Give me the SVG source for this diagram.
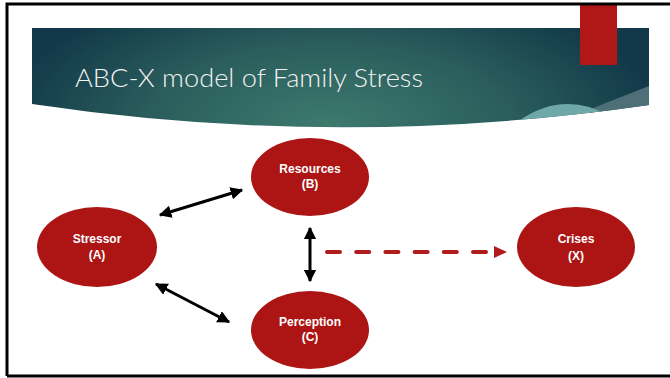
<svg xmlns="http://www.w3.org/2000/svg" width="670" height="378" viewBox="0 0 670 378">
<defs>
<radialGradient id="bg" gradientUnits="userSpaceOnUse" cx="330" cy="125" r="330" gradientTransform="translate(330 125) scale(1 0.45) translate(-330 -125)">
<stop offset="0" stop-color="#3D7A6E"/>
<stop offset="0.55" stop-color="#2A5D5C"/>
<stop offset="1" stop-color="#123949"/>
</radialGradient>
<clipPath id="bannerClip"><path d="M32 28 H649 V105 Q340 150 32 104 Z"/></clipPath>
<marker id="ah" viewBox="0 0 10 10" refX="9" refY="5" markerWidth="4.2" markerHeight="4.2" orient="auto-start-reverse" markerUnits="strokeWidth">
<path d="M0 0 L10 5 L0 10 Z" fill="#000"/>
</marker>
<style>
.node ellipse{fill:#AD1515;}
.node text{font-family:"Liberation Sans",Arial,sans-serif;font-weight:bold;font-size:12px;fill:#fff;text-anchor:middle;}
.arr{stroke:#000;stroke-width:3;fill:none;marker-start:url(#ah);marker-end:url(#ah);}
</style>
</defs>
<rect width="670" height="378" fill="#fff"/>
<g id="banner">
<path d="M32 28 H649 V105 Q340 150 32 104 Z" fill="url(#bg)"/>
<g clip-path="url(#bannerClip)">
<path d="M588 110 L649 86 V130 H588 Z" fill="#4E6E78"/>
<path d="M512 126 Q560 88 610 116 L649 112 V140 H500 Z" fill="#6FA8A8"/>
</g>
<text x="75" y="87" font-family="Lato,'Open Sans',sans-serif" font-weight="300" font-size="26" fill="#F2F2F2" textLength="348" lengthAdjust="spacingAndGlyphs">ABC-X model of Family Stress</text>
</g>
<rect id="accent" x="580" y="3" width="37" height="62" fill="#B01716"/>
<g id="frame" stroke="#000" stroke-width="3" fill="none">
<path d="M7 376 V4 H670"/>
<path d="M7 376 H670"/>
</g>
<g id="connectors">
<line class="arr" x1="160" y1="215" x2="242" y2="190"/>
<line class="arr" x1="156" y1="284" x2="229" y2="322"/>
<line class="arr" x1="310" y1="228" x2="310" y2="281"/>
<line x1="327" y1="252" x2="486" y2="252" stroke="#B01B1B" stroke-width="4" stroke-linecap="round" stroke-dasharray="13 16.2"/>
<polygon points="494,246 507,252 494,258" fill="#B01B1B"/>
</g>
<g id="stressor" class="node">
<ellipse cx="97" cy="247" rx="60" ry="40"/>
<text x="97" y="243">Stressor</text>
<text x="97" y="259">(A)</text>
</g>
<g id="resources" class="node">
<ellipse cx="310" cy="177" rx="59" ry="39"/>
<text x="310" y="173">Resources</text>
<text x="310" y="188">(B)</text>
</g>
<g id="perception" class="node">
<ellipse cx="310" cy="330" rx="59" ry="39"/>
<text x="310" y="326">Perception</text>
<text x="310" y="341">(C)</text>
</g>
<g id="crises" class="node">
<ellipse cx="576" cy="247" rx="59" ry="40"/>
<text x="576" y="243">Crises</text>
<text x="576" y="260">(X)</text>
</g>
</svg>
